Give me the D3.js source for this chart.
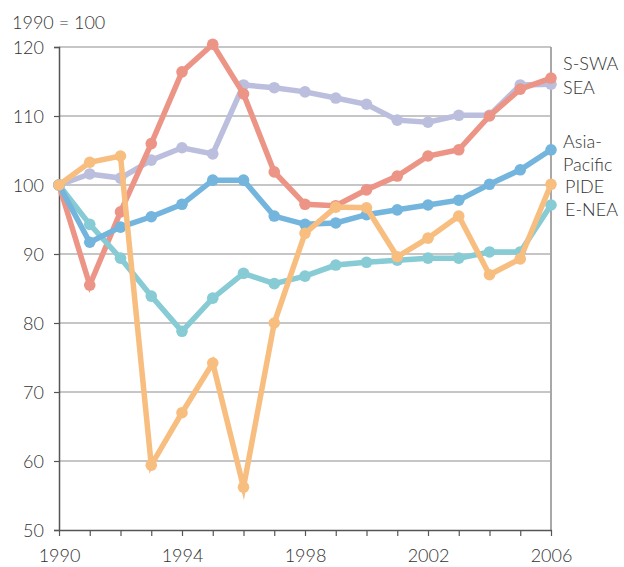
<!DOCTYPE html>
<html><head><meta charset="utf-8">
<script src="https://cdn.jsdelivr.net/npm/d3@7"></script>
<style>
body{margin:0;background:#fff}
text{font-family:Lato,"Open Sans",sans-serif;fill:#333;font-weight:300}
</style>
</head><body>
<svg id="c" width="624" height="567"></svg>
<script>
const years = [1990,1991,1992,1993,1994,1995,1996,1997,1998,1999,2000,2001,2002,2003,2004,2005,2006];
const sea    = [100,101.6,101.0,103.6,105.4,104.5,114.5,114.1,113.5,112.6,111.7,109.4,109.1,110.1,110.1,114.5,114.6];
const sswa   = [100,85.5,96.1,106.0,116.4,120.4,113.2,101.9,97.2,97.0,99.3,101.3,104.2,105.1,110.0,113.9,115.5];
const enea   = [100,94.3,89.4,83.9,78.8,83.6,87.2,85.7,86.8,88.4,88.8,89.1,89.4,89.4,90.3,90.3,97.1];
const asiaPacific = [100,91.7,93.9,95.4,97.2,100.7,100.7,95.5,94.3,94.5,95.7,96.4,97.1,97.8,100.1,102.2,105.1];
const pide   = [100,103.3,104.2,59.4,67.0,74.2,56.2,80.0,93.0,96.8,96.7,89.6,92.3,95.5,87.0,89.3,100.1];
const yTicks = [50,60,70,80,90,100,110,120];
const xTickLabels = [1990,1994,1998,2002,2006];

const series = [
  {name:"SEA", values:sea, color:"#bbbfdd"},
  {name:"S-SWA", values:sswa, color:"#ec9486"},
  {name:"E-NEA", values:enea, color:"#87cbd5"},
  {name:"Asia-Pacific", values:asiaPacific, color:"#74b5de"},
  {name:"PIDE", values:pide, color:"#f7be80"}
];

const svg = d3.select("#c");
const L=59,R=551,T=47,B=530;
const x = d3.scaleLinear().domain([1990,2006]).range([L,R]);
const y = d3.scaleLinear().domain([50,120]).range([B,T]);
const FONT = "Lato,'Open Sans',sans-serif";

// gridlines
svg.append("g").selectAll("line").data(yTicks.filter(v=>v>50)).join("line")
  .attr("x1",L).attr("x2",R).attr("y1",d=>y(d)).attr("y2",d=>y(d))
  .attr("stroke","#b3b3b3").attr("stroke-width",1.5);
// right border
svg.append("line").attr("x1",R).attr("x2",R).attr("y1",T).attr("y2",B)
  .attr("stroke","#a8a8a8").attr("stroke-width",2);

// y axis
const ya = svg.append("g").attr("transform",`translate(${L},0)`)
  .call(d3.axisLeft(y).tickValues(yTicks).tickSize(5).tickPadding(10).tickFormat(d3.format("d")));
ya.select(".domain").attr("stroke","#555").attr("stroke-width",1.5);
ya.selectAll(".tick line").attr("stroke","#555").attr("stroke-width",1.2);
ya.selectAll("text").attr("font-size",18).attr("font-family",FONT).attr("font-weight",300).attr("fill","#333").attr("dy","0.35em");

// x axis
const xa = svg.append("g").attr("transform",`translate(0,${B})`)
  .call(d3.axisBottom(x).tickValues(years).tickSize(6).tickSizeOuter(0).tickFormat(d=>xTickLabels.includes(d)?String(d):""));
xa.select(".domain").attr("stroke","#555").attr("stroke-width",1.5);
xa.selectAll(".tick line").attr("stroke","#555").attr("stroke-width",1.2);
xa.selectAll("text").attr("font-size",18).attr("font-family",FONT).attr("font-weight",300).attr("fill","#333").attr("y",19);

// lines
const line = d3.line().x((d,i)=>x(years[i])).y(d=>y(d));
const g = svg.append("g");
series.forEach(s=>{
  g.append("path").attr("d",line(s.values)).attr("fill","none")
    .attr("stroke",s.color).attr("stroke-width",5.5).attr("stroke-linejoin","miter").attr("stroke-miterlimit",10);
  g.append("g").selectAll("circle").data(s.values).join("circle")
    .attr("cx",(d,i)=>x(years[i])).attr("cy",d=>y(d)).attr("r",5.8).attr("fill",s.color);
});

// title
svg.append("text").attr("x",12).attr("y",29).attr("font-size",18).text("1990 = 100");

// series labels
const labels = [["S-SWA",563,70],["SEA",563,94],["Asia-",563,148],["Pacific",563,171],["PIDE",565,193],["E-NEA",565,216]];
svg.append("g").selectAll("text").data(labels).join("text")
  .attr("x",d=>d[1]).attr("y",d=>d[2]).attr("font-size",18).text(d=>d[0]);
</script>
</body></html>
